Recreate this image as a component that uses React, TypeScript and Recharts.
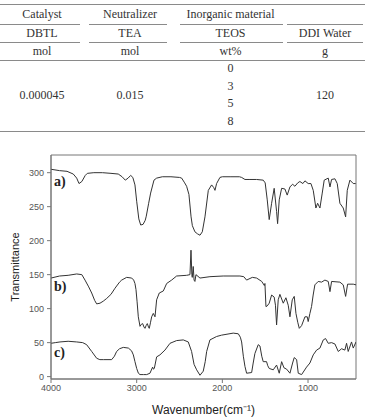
import {
  LineChart,
  Line,
  XAxis,
  YAxis,
  ReferenceArea,
} from "recharts";

// table contents
const headRow1 = ["Catalyst", "Neutralizer", "Inorganic material", ""];
const headRow2 = ["DBTL", "TEA", "TEOS", "DDI Water"];
const unitRow = ["mol", "mol", "wt%", "g"];
const catalystValue = "0.000045";
const neutralizerValue = "0.015";
const teosValues = ["0", "3", "5", "8"];
const waterValue = "120";

// spectra (wavenumber, transmittance)
const waveA = [
  4000, 3900, 3813, 3740, 3700, 3673, 3640, 3600, 3576, 3500, 3400, 3300, 3215, 3170, 3133, 3100,
  3070, 3045, 3020, 3000, 2975, 2953, 2925, 2900, 2888, 2860, 2837, 2798, 2767, 2700, 2600, 2500,
  2475, 2440, 2417, 2390, 2365, 2350, 2320, 2290, 2261, 2234, 2203, 2164, 2125, 2100, 2086, 2067,
  2028, 2000, 1900, 1800, 1775, 1736, 1678, 1600, 1523, 1500, 1476, 1453, 1425, 1395, 1367, 1355,
  1336, 1308, 1270, 1243, 1211, 1180, 1153, 1120, 1095, 1060, 1036, 998, 966, 939, 908, 888, 861,
  834, 811, 764, 744, 725, 686, 659, 628, 589, 561, 542, 511, 472, 444,
];
const transA = [
  305, 303, 302, 298, 292, 284, 287, 296, 299, 300, 300, 299, 298, 294, 289, 292,
  296, 293, 282, 258, 232, 223, 224, 230, 236, 255, 270, 289, 292, 294, 294, 293,
  292, 285, 280, 268, 235, 222, 213, 210, 208, 213, 235, 274, 282, 278, 274, 284,
  293, 294, 294, 294, 293, 290, 290, 290, 289, 285, 260, 231, 255, 277, 243, 225,
  260, 277, 276, 267, 279, 283, 280, 285, 287, 284, 288, 284, 284, 274, 248, 255, 248,
  270, 289, 292, 279, 290, 291, 284, 255, 248, 235, 274, 289, 284, 284,
];

const waveB = [
  4000, 3900, 3800, 3700, 3640, 3603, 3560, 3525, 3490, 3467, 3428, 3390, 3350, 3300, 3253, 3200,
  3175, 3117, 3058, 3035, 3020, 3008, 2995, 2981, 2961, 2945, 2930, 2915, 2903, 2890, 2876, 2862,
  2853, 2838, 2825, 2806, 2786, 2767, 2736, 2689, 2650, 2592, 2534, 2417, 2378, 2366, 2356, 2351,
  2340, 2330, 2320, 2308, 2261, 2145, 1990, 1795, 1750, 1717, 1650, 1600, 1540, 1510, 1503, 1491,
  1476, 1453, 1425, 1395, 1380, 1367, 1348, 1328, 1289, 1258, 1231, 1211, 1184, 1161, 1141, 1120,
  1102, 1075, 1036, 1009, 998, 978, 959, 940, 920, 881, 842, 803, 764, 744, 725, 628, 589, 561,
  538, 472, 440,
];
const transB = [
  145, 148, 149, 151, 150, 142, 132, 123, 112, 107, 108, 111, 115, 121, 130, 139,
  142, 146, 145, 142, 137, 128, 110, 88, 74, 77, 78, 73, 71, 75, 78, 73,
  71, 80, 88, 93, 88, 113, 123, 126, 137, 142, 148, 149, 150, 186, 150, 146,
  162, 142, 140, 150, 145, 147, 148, 148, 147, 142, 146, 145, 140, 134, 137, 103,
  104, 108, 120, 117, 105, 76, 113, 121, 108, 116, 105, 88, 113, 118, 93, 80,
  71, 75, 88, 88, 81, 93, 103, 120, 135, 140, 139, 142, 140, 125, 140, 139, 135, 118,
  136, 136, 135,
];

const waveC = [
  4000, 3950, 3895, 3800, 3700, 3630, 3584, 3525, 3467, 3430, 3389, 3292, 3260, 3234, 3200, 3156,
  3097, 3060, 3039, 3020, 3000, 2980, 2961, 2920, 2883, 2845, 2814, 2804, 2794, 2767, 2728, 2670,
  2611, 2534, 2456, 2398, 2359, 2330, 2300, 2261, 2223, 2200, 2183, 2145, 2067, 2009, 1873, 1814,
  1790, 1775, 1755, 1736, 1717, 1658, 1640, 1620, 1581, 1561, 1540, 1523, 1484, 1470, 1453, 1406,
  1367, 1336, 1308, 1281, 1250, 1211, 1180, 1161, 1133, 1114, 1075, 1017, 978, 939, 900, 861, 822,
  795, 764, 725, 686, 647, 608, 570, 550, 531, 492, 472, 440,
];
const transC = [
  49, 50, 51, 52, 51, 50, 47, 37, 27, 25, 25, 25, 30, 37, 41, 43,
  42, 38, 32, 22, 12, 5, 3, 3, 3, 5, 14, 11, 12, 29, 32, 39,
  49, 53, 54, 51, 37, 18, 10, 2, 8, 22, 37, 54, 59, 61, 64, 63,
  58, 51, 30, 15, 5, 6, 20, 34, 47, 45, 30, 22, 22, 16, 12, 10,
  17, 5, 22, 13, 11, 5, 20, 28, 25, 5, 3, 14, 20, 32, 39, 42, 54,
  56, 49, 50, 48, 37, 41, 39, 49, 37, 51, 42, 51,
];

const yTicks = [0, 50, 100, 150, 200, 250, 300];
const xTicks = [1000, 2000, 3000, 4000];

const zip = (w: number[], t: number[]) => w.map((wn, i) => ({ wn, t: t[i] }));
const seriesA = zip(waveA, transA);
const seriesB = zip(waveB, transB);
const seriesC = zip(waveC, transC);

const serif = "'Liberation Serif', 'Times New Roman', serif";
const sans = "'Liberation Sans', Arial, sans-serif";
const colX = [0, 84, 176, 285, 365];
const ink = "#333";

function Cell({ col, top, text }: { col: number; top: number; text: string }) {
  return (
    <div
      style={{
        position: "absolute",
        left: colX[col],
        width: colX[col + 1] - colX[col],
        top: top - 8,
        height: 16,
        lineHeight: "16px",
        textAlign: "center",
        fontSize: 12,
        color: ink,
        fontFamily: serif,
      }}
    >
      {text}
    </div>
  );
}

function Rule({ x, w, y }: { x: number; w: number; y: number }) {
  return (
    <div style={{ position: "absolute", left: x, width: w, top: y, height: 1, background: "#8a8a8a" }} />
  );
}

const segs = [
  [0, 80],
  [89, 167],
  [180, 283],
  [287, 363],
];

function Table() {
  return (
    <>
      <Rule x={0} w={365} y={4} />
      {segs.map(([a, b], i) => (
        <Rule key={"r1" + i} x={a} w={b - a} y={24} />
      ))}
      {segs.map(([a, b], i) => (
        <Rule key={"r2" + i} x={a} w={b - a} y={42} />
      ))}
      <Rule x={0} w={365} y={60} />
      <Rule x={0} w={365} y={131} />
      {headRow1.map((t, i) => (
        <Cell key={"h1" + i} col={i} top={14} text={t} />
      ))}
      {headRow2.map((t, i) => (
        <Cell key={"h2" + i} col={i} top={33} text={t} />
      ))}
      {unitRow.map((t, i) => (
        <Cell key={"u" + i} col={i} top={51} text={t} />
      ))}
      <Cell col={0} top={95} text={catalystValue} />
      <Cell col={1} top={95} text={neutralizerValue} />
      {teosValues.map((t, i) => (
        <Cell key={"v" + i} col={2} top={68 + i * 17.7} text={t} />
      ))}
      <Cell col={3} top={95} text={waterValue} />
    </>
  );
}

function Tag({ top, text }: { top: number; text: string }) {
  return (
    <div
      style={{
        position: "absolute",
        left: 54,
        top: top - 9,
        fontFamily: serif,
        fontWeight: 700,
        fontSize: 14,
        lineHeight: "18px",
        color: "#222",
      }}
    >
      {text}
    </div>
  );
}

export default function App() {
  return (
    <div style={{ position: "absolute", left: 0, top: 0, width: 365, height: 418, background: "#fff" }}>
      <Table />
      <div style={{ position: "absolute", left: 0, top: 140, width: 365, height: 278 }}>
        <LineChart width={365} height={278} margin={{ top: 15, right: 9, left: 0, bottom: 0 }}>
          <XAxis
            type="number"
            dataKey="wn"
            domain={[440, 4000]}
            reversed
            ticks={xTicks}
            allowDataOverflow
            height={39}
            tickSize={4}
            tickMargin={2}
            stroke="#777"
            tick={{ fontSize: 9, fill: "#555", fontFamily: sans }}
            label={{
              value: "Wavenumber(cm\u207B\u00B9)",
              position: "insideBottom",
              offset: 4,
              style: { fontSize: 12, fill: "#222", fontFamily: sans },
            }}
          />
          <YAxis
            type="number"
            dataKey="t"
            domain={[-3.5, 326]}
            ticks={yTicks}
            allowDataOverflow
            width={51}
            tickSize={4}
            tickMargin={3}
            stroke="#777"
            tick={{ fontSize: 9, fill: "#555", fontFamily: sans }}
            label={{
              value: "Transmittance",
              angle: -90,
              position: "insideLeft",
              offset: 15,
              style: { fontSize: 11, fill: "#222", fontFamily: sans, textAnchor: "middle" },
            }}
          />
          <ReferenceArea x1={440} x2={4000} y1={-3.5} y2={326} fill="none" stroke="#777" ifOverflow="visible" />
          <Line data={seriesA} dataKey="t" stroke="#333" strokeWidth={1} dot={false} isAnimationActive={false} />
          <Line data={seriesB} dataKey="t" stroke="#333" strokeWidth={1} dot={false} isAnimationActive={false} />
          <Line data={seriesC} dataKey="t" stroke="#333" strokeWidth={1} dot={false} isAnimationActive={false} />
        </LineChart>
        <Tag top={42} text="a)" />
        <Tag top={147} text="b)" />
        <Tag top={213} text="c)" />
      </div>
    </div>
  );
}
